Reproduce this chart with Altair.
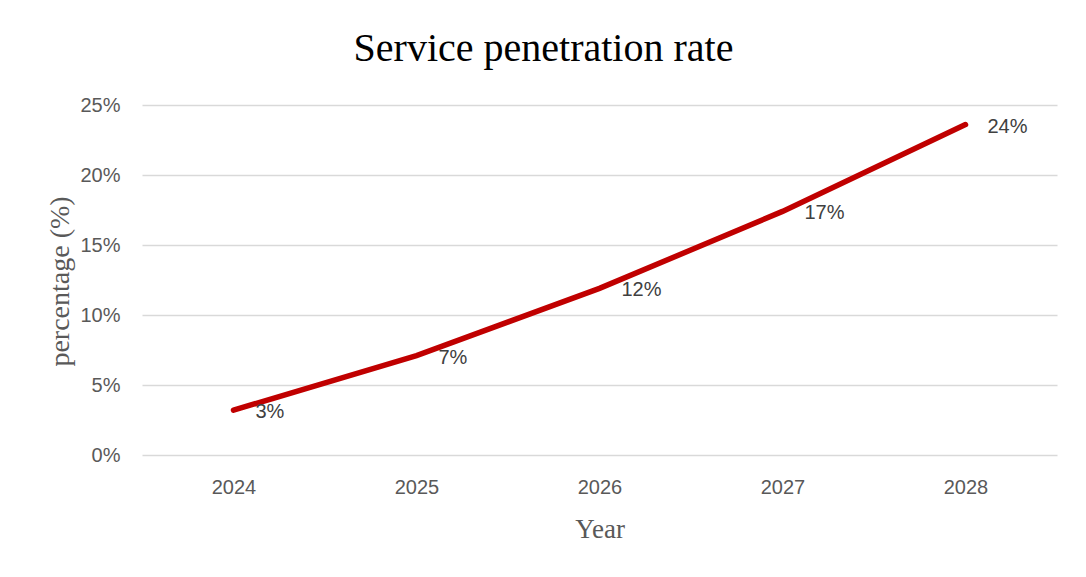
import altair as alt
import pandas as pd

years = ["2024", "2025", "2026", "2027", "2028"]
rates = [0.032, 0.071, 0.119, 0.174, 0.236]
y_ticks = [0, 0.05, 0.10, 0.15, 0.20, 0.25]

df = pd.DataFrame({"Year": years, "rate": rates})

base = alt.Chart(df).encode(
    x=alt.X("Year:O", sort=years,
            axis=alt.Axis(title="Year", labelAngle=0, ticks=False, domain=False,
                          labelFont="Liberation Sans", labelFontSize=20,
                          labelColor="#595959", labelPadding=22,
                          titleFont="Liberation Serif", titleFontSize=27,
                          titleFontWeight="normal", titleColor="#595959",
                          titleY=74, titleBaseline="middle", grid=False)),
    y=alt.Y("rate:Q", scale=alt.Scale(domain=[0, 0.25], nice=False),
            axis=alt.Axis(title="percentage (%)", format=".0%", values=y_ticks,
                          ticks=False, domain=False,
                          labelFont="Liberation Sans", labelFontSize=20,
                          labelColor="#595959", labelPadding=22,
                          titleFont="Liberation Serif", titleFontSize=28,
                          titleFontWeight="normal", titleColor="#595959",
                          titleX=-82, titleY=176, titleAngle=270,
                          titleBaseline="middle", titleAlign="center",
                          grid=True, gridColor="#d9d9d9", gridWidth=1.3)),
)

line = base.mark_line(color="#C00000", strokeWidth=5.5, strokeCap="round")
labels = base.mark_text(align="left", baseline="middle", dx=22, dy=2,
                        font="Liberation Sans", fontSize=20,
                        color="#404040").encode(
    text=alt.Text("rate:Q", format=".0%"))

chart = (line + labels).properties(
    width=915, height=350,
    background="white",
    title=alt.TitleParams("Service penetration rate", font="Liberation Serif",
                          fontSize=40, fontWeight="normal", color="#000000",
                          anchor="middle", frame="group", dx=-56, offset=26),
    autosize=alt.AutoSizeParams(type="none"),
    padding={"left": 134, "top": 97, "right": 21, "bottom": 106},
).configure_view(stroke=None, strokeWidth=0)

chart.save("out.html", embed_options={"renderer": "svg", "actions": False})
